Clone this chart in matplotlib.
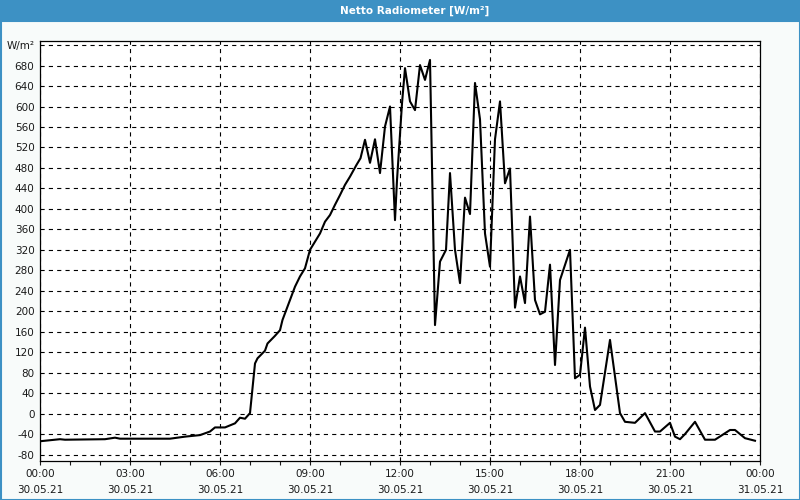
import numpy as np
import matplotlib as mpl
import matplotlib.pyplot as plt
from matplotlib.patches import Rectangle

# sample times in minutes after 30.05.21 00:00
minutes = [0, 20, 40, 50, 130, 150, 160, 260, 290, 320, 340, 350, 370, 390, 400, 410, 420,
           430, 435, 450, 455, 470, 480, 485, 500, 510, 520, 530, 540, 550, 560, 570,
           580, 590, 600, 610, 620, 633, 641, 650, 660, 670, 680, 690, 700, 710, 714,
           724, 730, 740, 750, 760, 770, 780, 790, 794, 800, 812, 820, 830, 840, 850,
           860, 870, 880, 890, 900, 910, 920, 930, 940, 950, 960, 970, 980, 990, 1000,
           1010, 1020, 1030, 1040, 1060, 1070, 1080, 1090, 1100, 1110, 1120, 1140, 1160,
           1170, 1190, 1210, 1230, 1240, 1260, 1270, 1280, 1290, 1310, 1330, 1350, 1380,
           1390, 1410, 1430]
values = [-54, -52, -50, -51, -50, -47, -49, -49, -45, -42, -35, -27, -27, -19, -8, -10, 1,
          98, 108, 123, 137, 152, 163, 183, 222, 248, 268, 284, 320, 336, 352, 375,
          388, 408, 427, 447, 463, 486, 499, 535, 490, 536, 470, 561, 600, 378, 456,
          606, 675, 610, 593, 681, 652, 691, 173, 222, 297, 320, 470, 320, 255, 422,
          390, 646, 575, 352, 287, 536, 610, 450, 479, 207, 268, 216, 385, 222, 194,
          199, 291, 95, 261, 320, 69, 76, 168, 53, 7, 17, 144, 1,
          -16, -18, 1, -35, -35, -18, -45, -50, -40, -16, -51, -51, -32,
          -32, -48, -53]

y_ticks = list(range(-80, 721, 40))
y_labels = [str(v) for v in y_ticks[:-1]] + ['W/m²']
x_ticks = list(range(0, 25, 3))
time_labels = ['00:00', '03:00', '06:00', '09:00', '12:00', '15:00', '18:00', '21:00', '00:00']
date_labels = ['30.05.21'] * 8 + ['31.05.21']

plt.rcParams['lines.scale_dashes'] = False
plt.rcParams['font.family'] = 'DejaVu Sans'

fig = plt.figure(figsize=(8, 5), dpi=100, facecolor='#f8fbfa')
blue = '#3d91c4'
# title bar and window border
fig.patches.append(Rectangle((0, 1 - 21 / 500), 1, 21 / 500, transform=fig.transFigure,
                             facecolor=blue, edgecolor='none', zorder=0))
fig.patches.append(Rectangle((0.5 / 800, 0.5 / 500), 1 - 1 / 800, 1 - 21 / 500,
                             transform=fig.transFigure, facecolor='none',
                             edgecolor=blue, linewidth=1.5, zorder=0))
fig.text(0.518, 1 - 10.5 / 500, 'Netto Radiometer [W/m²]', color='white',
         fontsize=7.5, fontweight='bold', ha='center', va='center')

ax = fig.add_axes([40 / 800, 1 - 460.7 / 500, 720 / 800, 420.2 / 500])
ax.set_facecolor('white')
hours = np.array(minutes) / 60.0
ax.plot(hours, values, color='black', linewidth=1.5, zorder=3)

ax.set_xlim(0, 24)
ax.set_ylim(-92, 729)
ax.set_yticks(y_ticks)
ax.set_yticklabels(y_labels)
ax.set_xticks(x_ticks)
ax.set_xticklabels([t + '\n' + d for t, d in zip(time_labels, date_labels)], linespacing=1.7)
ax.set_xticks(range(0, 25), minor=True)
ax.tick_params(axis='y', length=0, pad=4, labelsize=7.5, colors='#1a1a1a')
ax.tick_params(axis='x', which='both', direction='out', length=3, width=0.8,
               pad=3, labelsize=7.5, colors='#1a1a1a')
ax.grid(True, which='major', color='black', linewidth=0.8, linestyle=(0, (3, 3)))
for s in ax.spines.values():
    s.set_linewidth(0.9)
    s.set_color('black')

fig.savefig('out.png', dpi=100, facecolor=fig.get_facecolor())
